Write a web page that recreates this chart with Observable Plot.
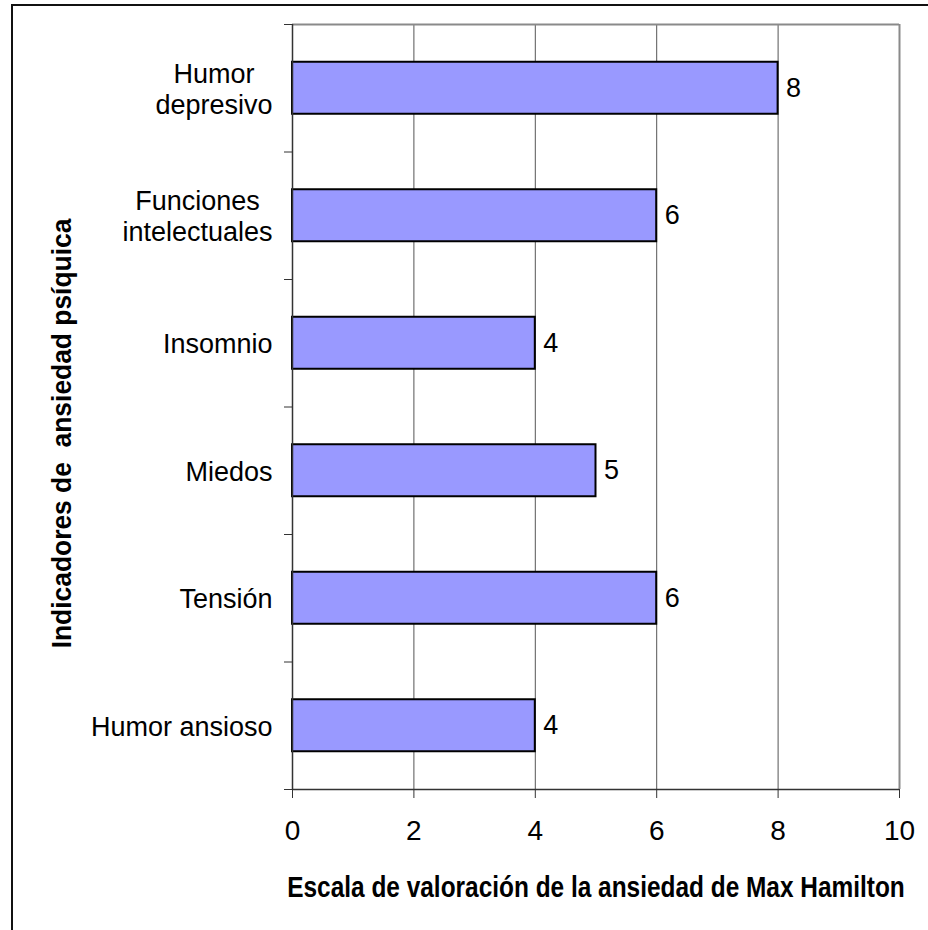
<!DOCTYPE html>
<html>
<head>
<meta charset="utf-8">
<script src="https://cdn.jsdelivr.net/npm/d3@7"></script>
<script src="https://cdn.jsdelivr.net/npm/@observablehq/plot@0.6"></script>
<style>
  html, body { margin: 0; padding: 0; background: #fff; overflow: hidden; }
  #wrap { position: relative; width: 928px; height: 930px; }
  #border { position: absolute; left: 11px; top: 4px; width: 2000px; height: 2000px;
            border-left: 2px solid #111; border-top: 2px solid #111; pointer-events: none; }
  svg { display: block; }
  svg text { white-space: pre; }
</style>
</head>
<body>
<div id="wrap"><div id="border"></div></div>
<script>
// Hamilton anxiety scale: psychic anxiety indicators
const categories = ["Humor\ndepresivo", "Funciones\nintelectuales", "Insomnio", "Miedos", "Tensión", "Humor ansioso"];
const values = [8, 6, 4, 5, 6, 4];
const xTicks = [0, 2, 4, 6, 8, 10];
const gridValues = [2, 4, 6, 8];
const xTitle = "Escala de valoración de la ansiedad de Max Hamilton";
const yTitle = "Indicadores de  ansiedad psíquica";

const rows = categories.map((label, i) => ({label, value: values[i], i}));

const sans = "'Liberation Sans', Arial, sans-serif";
const catFont = 27;

// measure label widths so each (possibly two-line) label is centred on itself
// and right-aligned against the axis, as in a spreadsheet chart
const ctx = document.createElement("canvas").getContext("2d");
ctx.font = `${catFont}px ${sans}`;
const labelWidth = (s) => d3.max(s.split("\n"), (line) => ctx.measureText(line).width);

const catLabels = rows.map((r) =>
  Plot.text([r], {
    y: (d) => d.i + 0.5,
    frameAnchor: "left",
    text: "label",
    textAnchor: "middle",
    lineAnchor: "middle",
    dx: -(20 + labelWidth(r.label) / 2),
    lineHeight: 1.15,
    fontSize: catFont,
    fill: "#000"
  })
);

const chart = Plot.plot({
  width: 928,
  height: 930,
  marginLeft: 292,
  marginRight: 29,
  marginTop: 24,
  marginBottom: 141,
  style: {fontFamily: sans, background: "#fff", overflow: "visible"},
  x: {domain: [0, 10]},
  y: {domain: [0, categories.length], reverse: true},
  marks: [
    Plot.ruleX(gridValues, {stroke: "#555", strokeWidth: 1}),
    Plot.ruleY([0], {stroke: "#8a8a8a", strokeWidth: 2}),
    Plot.ruleX([10], {stroke: "#8a8a8a", strokeWidth: 2}),
    Plot.rectX(rows, {
      x1: 0, x2: "value",
      y1: "i", y2: (d) => d.i + 1,
      insetTop: 37.75, insetBottom: 37.75,
      fill: "#9999ff", stroke: "#000", strokeWidth: 2
    }),
    Plot.ruleX([0], {stroke: "#333", strokeWidth: 1.5}),
    Plot.ruleY([categories.length], {stroke: "#333", strokeWidth: 1.5}),
    Plot.axisY(d3.range(0, categories.length + 1), {
      tickSize: 8, tickFormat: () => "", stroke: "#333", label: null
    }),
    Plot.axisX(xTicks, {
      tickSize: 9, tickPadding: 22, fontSize: 28, stroke: "#333", fill: "#000", label: null
    }),
    ...catLabels,
    Plot.text(rows, {
      x: "value", y: (d) => d.i + 0.5, text: (d) => String(d.value),
      textAnchor: "start", dx: 8, fontSize: 27, fill: "#000"
    }),
    Plot.text([xTitle], {
      frameAnchor: "bottom", textAnchor: "middle", lineAnchor: "middle",
      dy: 98, fontSize: 29, fontWeight: "bold", fill: "#000",
      className: "title-x"
    }),
    Plot.text([yTitle], {
      frameAnchor: "left", textAnchor: "middle", lineAnchor: "middle",
      rotate: -90, dx: -230, dy: 26.5, fontSize: 27, fontWeight: "bold", fill: "#000",
      className: "title-y"
    })
  ]
});

document.getElementById("wrap").prepend(chart);

// the axis titles are set in a condensed bold face: narrow them horizontally
// (along the text direction) so they run the given length
const condense = (cls, length) =>
  chart.querySelectorAll(`.${cls} text`).forEach((t) => {
    const k = length / t.getComputedTextLength();
    const base = t.getAttribute("transform") || "";
    t.setAttribute("transform", `${base} scale(${k},1)`);
  });
condense("title-x", 618);
condense("title-y", 430);
</script>
</body>
</html>
